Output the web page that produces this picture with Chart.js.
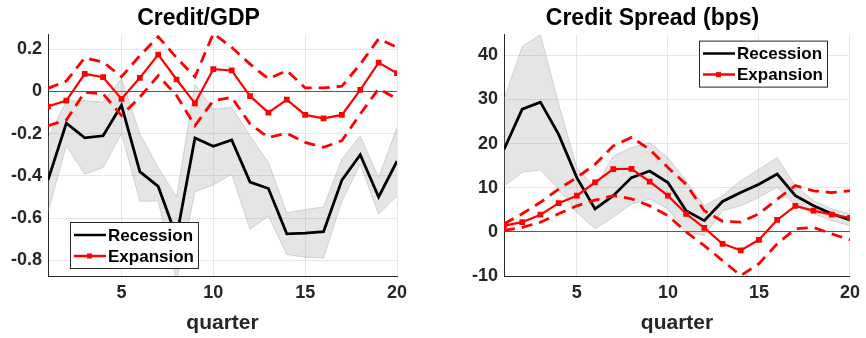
<!DOCTYPE html>
<html>
<head>
<meta charset="utf-8">
<script src="https://cdn.jsdelivr.net/npm/chart.js@4.4.1/dist/chart.umd.min.js"></script>
<style>
  html, body { margin: 0; padding: 0; background: #fff; }
  .panel { position: absolute; top: 0; height: 338px; }
  #p1 { left: 0; width: 433px; }
  #p2 { left: 433px; width: 433px; }
</style>
</head>
<body>
<div class="panel" id="p1"><canvas id="gdpChart"></canvas></div>
<div class="panel" id="p2"><canvas id="spreadChart"></canvas></div>
<script>
// ----- dados -----
const quarters = [1, 2, 3, 4, 5, 6, 7, 8, 9, 10, 11, 12, 13, 14, 15, 16, 17, 18, 19, 20];
const xTicks = [5, 10, 15, 20];

// Credit/GDP
const gdpRecession = [-0.42, -0.15, -0.22, -0.21, -0.065, -0.38, -0.45, -0.69, -0.22, -0.26, -0.23, -0.43, -0.46, -0.675, -0.672, -0.665, -0.42, -0.30, -0.50, -0.33];
const gdpRecHigh = [-0.22, -0.045, -0.043, -0.05, 0.06, -0.2, -0.36, -0.5, 0.035, -0.083, -0.075, -0.21, -0.337, -0.575, -0.56, -0.548, -0.32, -0.21, -0.408, -0.17];
const gdpRecLow = [-0.57, -0.257, -0.392, -0.36, -0.2, -0.52, -0.52, -0.9, -0.475, -0.443, -0.392, -0.654, -0.59, -0.773, -0.786, -0.79, -0.52, -0.344, -0.582, -0.495];
const gdpExpansion = [-0.071, -0.043, 0.084, 0.068, -0.035, 0.065, 0.175, 0.057, -0.056, 0.106, 0.1, -0.022, -0.10, -0.038, -0.111, -0.127, -0.111, 0.008, 0.137, 0.087];
const gdpExpHigh = [0.015, 0.05, 0.16, 0.14, 0.07, 0.17, 0.26, 0.16, 0.07, 0.275, 0.21, 0.13, 0.06, 0.1, 0.017, 0.017, 0.025, 0.13, 0.25, 0.21];
const gdpExpLow = [-0.162, -0.135, -0.003, -0.011, -0.114, -0.027, 0.076, -0.019, -0.162, -0.043, -0.027, -0.154, -0.218, -0.198, -0.241, -0.265, -0.233, -0.106, 0.013, -0.035];
const gdpTicks = [-0.8, -0.6, -0.4, -0.2, 0, 0.2];

// Credit Spread (bps)
const sprRecession = [18.7, 27.8, 29.4, 22.1, 12.3, 5.2, 8.2, 12.3, 13.8, 11.2, 4.8, 2.55, 6.9, 8.9, 10.8, 13.1, 8.2, 5.9, 4.1, 2.7];
const sprRecHigh = [30, 42, 44.7, 29, 14.5, 10, 17.2, 19.1, 20.2, 16.8, 11.6, 5.9, 8.2, 11.6, 14.2, 16.8, 10.5, 7.1, 5.2, 4.1];
const sprRecLow = [10.4, 13.5, 14, 9.7, 4.4, 0.7, 3.3, 6.3, 7.4, 5.2, 0, -0.8, 4.8, 5.9, 7.8, 10.1, 5.9, 4.1, 2.55, 1.4];
const sprExpansion = [1.4, 2.2, 3.9, 6.5, 8.2, 11.2, 14.2, 14.3, 11.4, 8.2, 4.1, 0.9, -2.7, -4.2, -1.8, 2.7, 5.9, 4.8, 3.9, 3.2];
const sprExpHigh = [1.8, 4.1, 6.7, 9.7, 12.3, 15.3, 19.5, 21.4, 18.7, 14.6, 10.8, 4.8, 2.4, 2.2, 4.1, 7.4, 10.5, 9.3, 8.9, 9.3];
const sprExpLow = [0.3, 1, 2.2, 4.1, 5.9, 7.2, 8.2, 7.5, 5.9, 3.7, 0, -3.1, -6.5, -9.9, -7.2, -2.7, 0.7, 1, -0.45, -1.8];
const sprTicks = [-10, 0, 10, 20, 30, 40];

const FONT = 'Arial, "Liberation Sans", Helvetica, sans-serif';
const RED = '#ff0000';
const AXIS = '#262626';

// ----- legenda dentro da área do gráfico -----
const insideLegend = {
  id: 'insideLegend',
  afterDraw(chart, args, opts) {
    const ctx = chart.ctx;
    const area = chart.chartArea;
    const items = chart.data.datasets.filter(d => d.inLegend);
    ctx.save();
    ctx.font = 'bold 17px ' + FONT;
    const textW = Math.max(...items.map(d => ctx.measureText(d.label).width));
    const w = textW + 42, h = 46;
    const x = opts.corner === 'bl' ? area.left + 22 : area.right - w - 23;
    const y = opts.corner === 'bl' ? area.bottom - h - 8 : area.top + 6;
    ctx.fillStyle = '#fff';
    ctx.fillRect(x, y, w, h);
    ctx.strokeStyle = AXIS;
    ctx.lineWidth = 1;
    ctx.strokeRect(x + 0.5, y + 0.5, w, h);
    items.forEach((d, i) => {
      const cy = y + 13 + i * 21;
      ctx.strokeStyle = d.borderColor;
      ctx.lineWidth = 2.5;
      ctx.beginPath();
      ctx.moveTo(x + 4, cy);
      ctx.lineTo(x + 36, cy);
      ctx.stroke();
      if (d.pointRadius > 0) {
        ctx.fillStyle = d.borderColor;
        ctx.fillRect(x + 17, cy - 2.5, 5, 5);
      }
      ctx.fillStyle = '#000';
      ctx.textBaseline = 'middle';
      ctx.textAlign = 'left';
      ctx.fillText(d.label, x + 38, cy + 1);
    });
    ctx.restore();
  }
};

function makeChart(id, cfg) {
  const ds = [
    // banda de confiança da recessão
    { data: cfg.recHigh, fill: '+1', backgroundColor: 'rgba(150,150,150,0.25)', borderColor: 'rgba(150,150,150,0.6)', borderWidth: 0.6, pointRadius: 0, order: 10 },
    { data: cfg.recLow, fill: false, borderColor: 'rgba(150,150,150,0.6)', borderWidth: 0.6, pointRadius: 0, order: 11 },
    { label: 'Recession', inLegend: true, data: cfg.rec, borderColor: '#000', borderWidth: 2.8, pointRadius: 0, order: 3 },
    { data: cfg.expHigh, borderColor: RED, borderWidth: 2.8, borderDash: [11, 7], pointRadius: 0, order: 2 },
    { data: cfg.expLow, borderColor: RED, borderWidth: 2.8, borderDash: [11, 7], pointRadius: 0, order: 2 },
    { label: 'Expansion', inLegend: true, data: cfg.exp, borderColor: RED, backgroundColor: RED, borderWidth: 2.2, pointStyle: 'rect', pointRadius: 2.5, order: 1 }
  ];
  return new Chart(document.getElementById(id), {
    type: 'line',
    data: { labels: quarters, datasets: ds.map(d => Object.assign({ tension: 0, fill: d.fill || false }, d)) },
    plugins: [insideLegend],
    options: {
      responsive: true,
      maintainAspectRatio: false,
      animation: false,
      events: [],
      layout: { padding: { left: cfg.padLeft, right: cfg.padRight, top: 0, bottom: 0 } },
      scales: {
        x: {
          type: 'linear',
          min: 1,
          max: 20,
          afterBuildTicks: s => { s.ticks = xTicks.map(v => ({ value: v })); },
          afterFit: s => { s.height = 62; },
          grid: { color: '#e6e6e6', drawTicks: false },
          border: { color: AXIS, width: 1 },
          ticks: { color: AXIS, font: { family: FONT, size: 18, weight: 'bold' }, padding: 6, maxRotation: 0 },
          title: { display: true, text: 'quarter', color: AXIS, font: { family: FONT, size: 21, weight: 'bold' }, padding: { top: 0, bottom: 2 } }
        },
        y: {
          min: cfg.yMin,
          max: cfg.yMax,
          afterBuildTicks: s => { s.ticks = cfg.yTicks.map(v => ({ value: v })); },
          afterFit: s => { s.width = cfg.yWidth; },
          grid: {
            drawTicks: false,
            color: c => (c.tick && c.tick.value === 0 ? '#5a5a5a' : '#e6e6e6')
          },
          border: { color: AXIS, width: 1 },
          ticks: {
            color: AXIS,
            padding: 6,
            font: { family: FONT, size: 18, weight: 'bold' },
            callback: v => cfg.fmt(v)
          }
        }
      },
      plugins: {
        legend: { display: false },
        tooltip: { enabled: false },
        insideLegend: { corner: cfg.corner },
        title: {
          display: true,
          text: cfg.title,
          color: '#000',
          font: { family: FONT, size: 23, weight: 'bold' },
          padding: { top: 5, bottom: 2 }
        }
      }
    }
  });
}

makeChart('gdpChart', {
  title: 'Credit/GDP',
  rec: gdpRecession, recHigh: gdpRecHigh, recLow: gdpRecLow,
  exp: gdpExpansion, expHigh: gdpExpHigh, expLow: gdpExpLow,
  yMin: -0.875, yMax: 0.27, yTicks: gdpTicks,
  fmt: v => (Math.abs(v) < 1e-9 ? '0' : v.toFixed(1)),
  yWidth: 48, padLeft: 0, padRight: 36, corner: 'bl'
});

makeChart('spreadChart', {
  title: 'Credit Spread (bps)',
  rec: sprRecession, recHigh: sprRecHigh, recLow: sprRecLow,
  exp: sprExpansion, expHigh: sprExpHigh, expLow: sprExpLow,
  yMin: -10, yMax: 44.7, yTicks: sprTicks,
  fmt: v => String(v),
  yWidth: 51, padLeft: 20, padRight: 14, corner: 'tr'
});
</script>
</body>
</html>
